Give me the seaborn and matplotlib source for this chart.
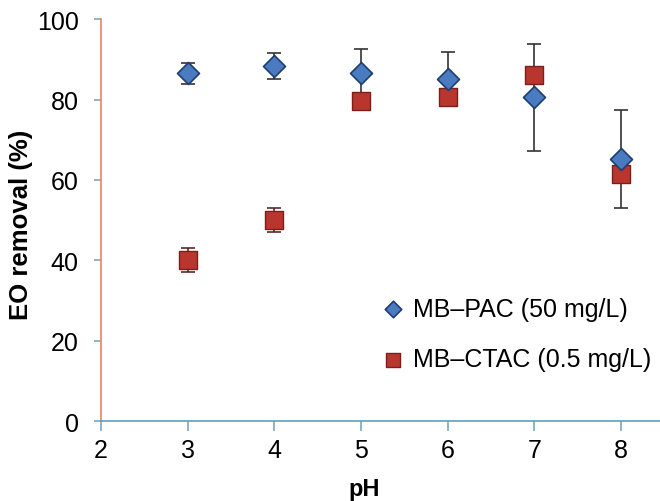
import matplotlib
matplotlib.use('Agg')
import matplotlib.pyplot as plt
import seaborn as sns

# values
ph = [3, 4, 5, 6, 7, 8]
pac_removal = [86.5, 88.4, 86.7, 85.1, 80.5, 65.2]
pac_err = [2.7, 3.2, 5.8, 6.6, 13.4, 12.2]
ctac_removal = [40.0, 50.0, 79.7, 80.5, 86.1, 61.4]
ctac_err = [3.0, 3.0, 1.5, 1.5, 2.0, 2.0]
pac_label = 'MB\u2013PAC (50 mg/L)'
ctac_label = 'MB\u2013CTAC (0.5 mg/L)'

sns.set_style('white')
plt.rcParams['font.family'] = ['Liberation Sans', 'DejaVu Sans']
plt.rcParams['text.color'] = 'black'
plt.rcParams['axes.labelcolor'] = 'black'
plt.rcParams['xtick.color'] = 'black'
plt.rcParams['ytick.color'] = 'black'

fig = plt.figure(figsize=(6.6, 5.02), dpi=100)
ax = fig.add_axes([0.153, 0.159, 0.847, 0.801])

# error bars below the markers
ax.errorbar(ph, pac_removal, yerr=pac_err, fmt='none', ecolor='#333333',
            elinewidth=1.2, capsize=5, capthick=1.2, zorder=2)
ax.errorbar(ph, ctac_removal, yerr=ctac_err, fmt='none', ecolor='#5a2a2a',
            elinewidth=1.2, capsize=5, capthick=1.2, zorder=2)

sns.scatterplot(x=ph, y=ctac_removal, marker='s', s=180, color='#b8362e',
                edgecolor='#7a1f1a', linewidth=1.0, zorder=3, ax=ax,
                label=ctac_label)
sns.scatterplot(x=ph, y=pac_removal, marker='D', s=125, color='#4a7bc0',
                edgecolor='#1f3d6e', linewidth=1.2, zorder=4, ax=ax,
                label=pac_label)

ax.set_xlim(2, 8.45)
ax.set_ylim(0, 100)
ax.set_xticks([2, 3, 4, 5, 6, 7, 8])
ax.set_yticks([0, 20, 40, 60, 80, 100])

for side in ['top', 'right']:
    ax.spines[side].set_visible(False)
ax.spines['left'].set_color('#f08060')
ax.spines['bottom'].set_color('#5aa0c0')
ax.spines['left'].set_linewidth(1.2)
ax.spines['bottom'].set_linewidth(1.2)

ax.tick_params(axis='x', bottom=True, direction='out', length=7, width=1.2,
               color='#7aa8c0', labelcolor='black', labelsize=18, pad=5)
ax.tick_params(axis='y', left=True, direction='out', length=5, width=1.2,
               color='#7aa8c0', labelcolor='black', labelsize=18, pad=11)

ax.set_xlabel('pH', fontsize=17, fontweight='bold')
ax.set_ylabel('EO removal (%)', fontsize=18.5, fontweight='bold')
ax.xaxis.set_label_coords(0.47, -0.138)
ax.yaxis.set_label_coords(-0.122, 0.49)

handles, labels = ax.get_legend_handles_labels()
ax.legend(handles[::-1], labels[::-1], loc='upper left',
          bbox_to_anchor=(0.455, 0.365), frameon=False, fontsize=18,
          markerscale=0.75, handletextpad=0.2, labelspacing=1.05,
          handlelength=1.2)

fig.savefig('out.png', dpi=100)
